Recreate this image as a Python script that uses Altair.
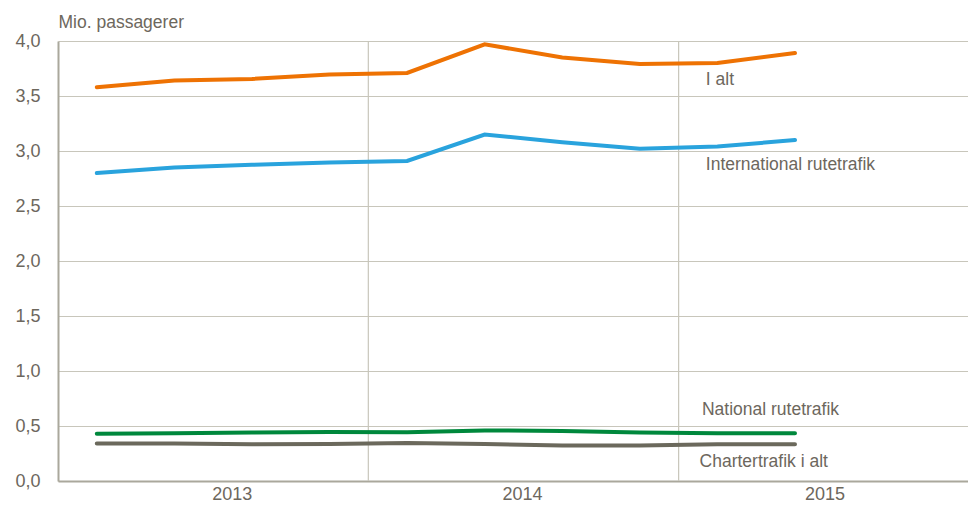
import altair as alt
import pandas as pd

quarters = ["2013K1", "2013K2", "2013K3", "2013K4", "2014K1", "2014K2",
            "2014K3", "2014K4", "2015K1", "2015K2"]
i_alt = [3.58, 3.64, 3.655, 3.695, 3.71, 3.97, 3.85, 3.79, 3.80, 3.89]
international = [2.80, 2.85, 2.875, 2.895, 2.91, 3.15, 3.08, 3.02, 3.04, 3.10]
national = [0.43, 0.435, 0.44, 0.445, 0.443, 0.46, 0.455, 0.44, 0.435, 0.435]
charter = [0.34, 0.34, 0.333, 0.337, 0.345, 0.337, 0.322, 0.322, 0.333, 0.333]

series_names = ["I alt", "International rutetrafik", "National rutetrafik", "Chartertrafik i alt"]
series_values = [i_alt, international, national, charter]
series_colors = ["#ee7203", "#29a3dd", "#00883c", "#6b695c"]

years = ["2013", "2014", "2015"]
year_label_pos = [2.24, 5.98, 9.88]
year_bounds = [4, 8]

label_x = [8.35, 8.35, 8.3, 8.27]
label_y = [3.645, 2.873, 0.645, 0.173]

rows = []
for name, vals in zip(series_names, series_values):
    for i, (q, v) in enumerate(zip(quarters, vals)):
        rows.append({"serie": name, "kvartal": q, "pos": i + 0.5, "value": v})
df = pd.DataFrame(rows)

lab_df = pd.DataFrame({"serie": series_names, "x": label_x, "y": label_y})
bound_df = pd.DataFrame({"b": year_bounds})

FONT = "Liberation Sans"
FS_AX = 18
FS = 17.5
TXT = "#6d675d"
GRID = "#c8c6bb"
AXIS = "#aaa89c"

label_map = "{" + ",".join(f"'{p}':'{y}'" for p, y in zip(year_label_pos, years)) + "}"

xscale = alt.Scale(domain=[0, 11.73], nice=False, zero=False)
yscale = alt.Scale(domain=[0, 4], nice=False)

lines = alt.Chart(df).mark_line(strokeWidth=4, strokeCap="round").encode(
    x=alt.X("pos:Q", scale=xscale,
            axis=alt.Axis(values=year_label_pos, grid=False, ticks=False,
                          labelExpr=f"{label_map}[datum.value + '']",
                          labelFont=FONT, labelFontSize=FS_AX, labelColor=TXT,
                          labelPadding=4, domainColor=AXIS, domainWidth=2,
                          title=None)),
    y=alt.Y("value:Q", scale=yscale,
            axis=alt.Axis(values=[0, 0.5, 1, 1.5, 2, 2.5, 3, 3.5, 4],
                          labelExpr="replace(format(datum.value, '.1f'), '.', ',')",
                          labelFont=FONT, labelFontSize=FS_AX, labelColor=TXT,
                          labelPadding=18, ticks=False, grid=True,
                          gridColor=GRID, gridWidth=1.2,
                          domainColor=AXIS, domainWidth=2,
                          title="Mio. passagerer", titleAngle=0,
                          titleAlign="left", titleBaseline="bottom",
                          titleX=0, titleY=-10, titleFont=FONT,
                          titleFontSize=FS, titleFontWeight="normal",
                          titleColor=TXT)),
    color=alt.Color("serie:N", scale=alt.Scale(domain=series_names, range=series_colors),
                    legend=None),
    detail="serie:N",
)

bounds = alt.Chart(bound_df).mark_rule(color=GRID, strokeWidth=1.2).encode(
    x=alt.X("b:Q", scale=xscale)
)

labels = alt.Chart(lab_df).mark_text(align="left", baseline="middle", font=FONT,
                                     fontSize=FS, color=TXT).encode(
    x=alt.X("x:Q", scale=xscale),
    y=alt.Y("y:Q", scale=yscale),
    text="serie:N",
)

chart = alt.layer(bounds, lines, labels).properties(
    width=910, height=440,
    autosize=alt.AutoSizeParams(type="none"),
    padding={"left": 50, "top": 33, "right": 0, "bottom": 24},
).configure_view(stroke=None)

chart.save("out.html", embed_options={"renderer": "svg", "actions": False})
